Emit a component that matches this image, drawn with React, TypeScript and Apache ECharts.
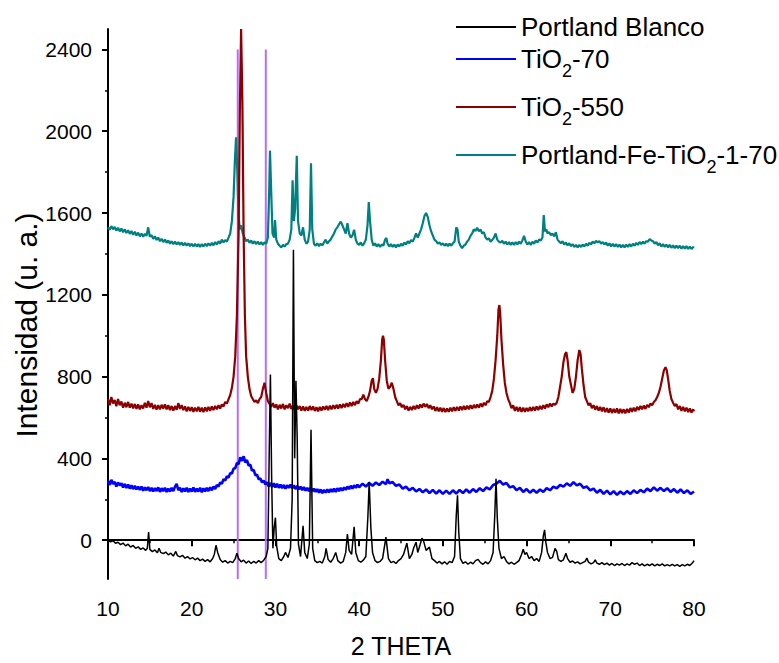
import React, { useEffect, useRef } from "react";
import * as echarts from "echarts";

// XRD patterns, [2θ, intensity] pairs
const portlandBlanco: [number, number][] = [
  [10,0],[10.3,-8],[10.6,-3],[10.9,-15],[11.2,-10],[11.5,-22],[11.8,-14],[12.1,-28],[12.4,-20],[12.7,-34],[13.0,-26],[13.3,-40],[13.6,-33],[13.9,-45],[14.2,-38],[14.5,-50],[14.7,-40],[14.85,40],[15.0,-45],[15.3,-56],[15.6,-48],[15.9,-62],[16.1,-40],[16.3,-60],[16.6,-66],[16.9,-58],[17.2,-72],[17.5,-64],[17.8,-78],[18.1,-55],[18.3,-76],[18.6,-82],[18.9,-74],[19.2,-88],[19.5,-80],[19.8,-92],[20.1,-85],[20.4,-96],[20.7,-88],[21.0,-100],[21.3,-93],[21.6,-104],[21.9,-95],[22.2,-106],[22.5,-90],[22.7,-70],[22.9,-25],[23.1,-60],[23.4,-95],[23.7,-108],[24.0,-100],[24.3,-112],[24.6,-104],[24.9,-110],[25.2,-90],[25.4,-64],[25.6,-90],[25.9,-106],[26.2,-98],[26.5,-112],[26.8,-102],[27.1,-114],[27.4,-104],[27.7,-112],[28.0,-100],[28.3,-110],[28.6,-98],[28.9,-80],[29.1,-40],[29.25,400],[29.4,810],[29.55,300],[29.7,-40],[29.85,60],[30.0,110],[30.15,-30],[30.4,-90],[30.7,-100],[31.0,-80],[31.2,-60],[31.5,-85],[31.8,-40],[32.0,200],[32.15,1420],[32.3,400],[32.45,780],[32.6,500],[32.75,-20],[33.0,-80],[33.3,70],[33.5,-60],[33.8,-90],[34.05,-20],[34.25,540],[34.45,-40],[34.7,-100],[35.0,-110],[35.3,-104],[35.6,-112],[35.9,-80],[36.05,-40],[36.3,-95],[36.6,-108],[36.9,-90],[37.2,-60],[37.45,-100],[37.8,-112],[38.1,-104],[38.4,-60],[38.6,30],[38.8,-50],[39.1,-70],[39.4,65],[39.6,-60],[39.9,-100],[40.2,-108],[40.5,-98],[40.8,-80],[41.05,120],[41.2,285],[41.4,60],[41.6,-60],[41.9,-100],[42.2,-110],[42.5,-104],[42.8,-90],[43.2,15],[43.5,-90],[43.8,-110],[44.1,-104],[44.4,-114],[44.7,-100],[45.0,-90],[45.3,-70],[45.7,-15],[46.0,-90],[46.3,-70],[46.5,-40],[46.8,-10],[47.0,-60],[47.3,-20],[47.5,10],[47.7,-5],[48.0,-50],[48.4,-34],[48.7,-90],[49.0,-100],[49.3,-112],[49.6,-104],[49.9,-116],[50.2,-106],[50.5,-118],[50.8,-104],[51.1,-110],[51.4,-80],[51.6,120],[51.75,220],[51.9,40],[52.1,-90],[52.4,-114],[52.7,-106],[53.0,-118],[53.3,-108],[53.6,-116],[53.9,-100],[54.2,-94],[54.5,-110],[54.8,-118],[55.1,-106],[55.4,-116],[55.7,-100],[56.0,-60],[56.2,120],[56.35,300],[56.5,110],[56.7,-40],[57.0,-90],[57.3,-80],[57.6,-104],[57.9,-116],[58.2,-108],[58.5,-118],[58.8,-110],[59.1,-100],[59.4,-70],[59.6,-45],[59.8,-70],[60.0,-60],[60.3,-90],[60.6,-80],[60.9,-100],[61.2,-90],[61.5,-104],[61.8,-60],[62.0,20],[62.15,50],[62.3,-10],[62.5,-60],[62.8,-90],[63.1,-84],[63.4,-40],[63.6,-55],[63.8,-95],[64.1,-104],[64.4,-96],[64.7,-64],[64.9,-90],[65.2,-108],[65.5,-102],[65.8,-112],[66.1,-106],[66.4,-116],[66.7,-110],[67.0,-104],[67.2,-88],[67.4,-108],[67.7,-116],[68.0,-110],[68.2,-96],[68.4,-112],[68.7,-118],[69.0,-110],[69.3,-120],[69.6,-112],[69.9,-122],[70.2,-114],[70.5,-124],[70.8,-116],[71.1,-122],[71.4,-114],[71.7,-124],[72.0,-116],[72.3,-122],[72.6,-110],[72.9,-118],[73.2,-112],[73.5,-124],[73.8,-116],[74.1,-126],[74.4,-118],[74.7,-124],[75.0,-116],[75.3,-126],[75.6,-118],[75.9,-124],[76.2,-116],[76.5,-126],[76.8,-120],[77.1,-126],[77.4,-118],[77.7,-126],[78.0,-120],[78.3,-128],[78.6,-120],[78.9,-126],[79.2,-118],[79.5,-124],[79.8,-112],[80.0,-100],
];

const tio2_70: [number, number][] = [
  [10,290],[10.2,270],[10.4,295],[10.6,275],[10.8,285],[11.0,262],[11.2,282],[11.4,268],[11.6,278],[11.8,258],[12.0,275],[12.2,255],[12.4,272],[12.6,252],[12.8,268],[13.0,250],[13.2,266],[13.4,248],[13.6,262],[13.8,245],[14.0,262],[14.2,242],[14.4,258],[14.6,244],[14.8,260],[15.0,240],[15.2,256],[15.4,238],[15.6,255],[15.8,240],[16.0,258],[16.2,236],[16.4,254],[16.6,240],[16.8,256],[17.0,236],[17.2,252],[17.4,238],[17.6,256],[17.8,240],[18.0,262],[18.2,275],[18.4,244],[18.6,256],[18.8,236],[19.0,254],[19.2,238],[19.4,256],[19.6,236],[19.8,252],[20.0,238],[20.2,258],[20.4,236],[20.6,252],[20.8,238],[21.0,256],[21.2,234],[21.4,254],[21.6,238],[21.8,256],[22.0,240],[22.2,258],[22.4,244],[22.6,262],[22.8,250],[23.0,270],[23.2,262],[23.4,282],[23.6,276],[23.8,298],[24.0,292],[24.2,312],[24.4,306],[24.6,328],[24.8,326],[25.0,350],[25.2,352],[25.4,378],[25.6,372],[25.8,405],[26.0,388],[26.2,410],[26.4,380],[26.6,392],[26.8,364],[27.0,370],[27.2,340],[27.4,344],[27.6,318],[27.8,320],[28.0,298],[28.2,302],[28.4,282],[28.6,292],[28.8,272],[29.0,284],[29.2,262],[29.4,280],[29.6,260],[29.8,278],[30.0,258],[30.2,276],[30.4,256],[30.6,272],[30.8,254],[31.0,270],[31.2,252],[31.4,268],[31.6,256],[31.8,272],[32.0,254],[32.2,268],[32.4,250],[32.6,266],[32.8,248],[33.0,262],[33.2,244],[33.4,260],[33.6,242],[33.8,256],[34.0,240],[34.2,256],[34.4,238],[34.6,252],[34.8,236],[35.0,250],[35.2,232],[35.4,248],[35.6,230],[35.8,246],[36.0,232],[36.2,248],[36.4,234],[36.6,250],[36.8,236],[37.0,252],[37.2,236],[37.4,254],[37.6,240],[37.8,256],[38.0,242],[38.2,258],[38.4,246],[38.6,262],[38.8,250],[39.0,266],[39.2,252],[39.4,268],[39.6,256],[39.8,272],[40.0,258],[40.4,276],[40.8,262],[41.2,280],[41.6,266],[42.0,282],[42.4,270],[42.8,286],[43.2,274],[43.4,298],[43.6,278],[44.0,284],[44.4,266],[44.8,272],[45.2,252],[45.6,262],[46.0,244],[46.4,256],[46.8,238],[47.2,250],[47.6,234],[48.0,248],[48.4,230],[48.8,246],[49.2,228],[49.6,244],[50.0,226],[50.4,242],[50.8,226],[51.2,244],[51.6,228],[52.0,246],[52.4,230],[52.8,248],[53.2,232],[53.6,250],[54.0,236],[54.4,254],[54.8,240],[55.2,258],[55.6,248],[56.0,270],[56.4,276],[56.8,290],[57.2,272],[57.6,280],[58.0,258],[58.4,264],[58.8,244],[59.2,256],[59.6,236],[60.0,250],[60.4,232],[60.8,246],[61.2,232],[61.6,248],[62.0,236],[62.4,254],[62.8,244],[63.2,262],[63.6,254],[64.0,270],[64.4,262],[64.8,278],[65.2,266],[65.6,284],[66.0,268],[66.4,276],[66.8,256],[67.2,262],[67.6,244],[68.0,252],[68.4,232],[68.8,246],[69.2,226],[69.6,242],[70.0,224],[70.4,240],[70.8,222],[71.2,238],[71.6,224],[72.0,240],[72.4,226],[72.8,244],[73.2,230],[73.6,246],[74.0,234],[74.4,252],[74.8,240],[75.2,258],[75.6,242],[76.0,256],[76.4,240],[76.8,254],[77.2,236],[77.6,250],[78.0,232],[78.4,248],[78.8,230],[79.2,244],[79.6,226],[80.0,238],
];

const tio2_550: [number, number][] = [
  [10,690],[10.2,660],[10.4,700],[10.6,668],[10.8,685],[11.0,655],[11.2,690],[11.4,660],[11.6,678],[11.8,648],[12.0,672],[12.2,650],[12.4,676],[12.6,648],[12.8,668],[13.0,644],[13.2,666],[13.4,642],[13.6,664],[13.8,640],[14.0,660],[14.2,644],[14.4,672],[14.6,648],[14.8,680],[15.0,650],[15.2,670],[15.4,642],[15.6,662],[15.8,638],[16.0,660],[16.2,640],[16.4,662],[16.6,644],[16.8,664],[17.0,640],[17.2,660],[17.4,636],[17.6,656],[17.8,634],[18.0,656],[18.2,638],[18.4,670],[18.6,642],[18.8,660],[19.0,636],[19.2,654],[19.4,630],[19.6,652],[19.8,632],[20.0,650],[20.2,628],[20.4,648],[20.6,630],[20.8,652],[21.0,628],[21.2,648],[21.4,626],[21.6,650],[21.8,630],[22.0,652],[22.2,632],[22.4,654],[22.6,636],[22.8,656],[23.0,640],[23.2,660],[23.4,644],[23.6,664],[23.8,654],[24.0,676],[24.2,668],[24.4,690],[24.6,710],[24.8,745],[25.0,800],[25.2,900],[25.4,1100],[25.6,1500],[25.75,2100],[25.9,2500],[26.05,2150],[26.2,1500],[26.35,1100],[26.5,900],[26.7,800],[26.9,740],[27.1,705],[27.3,690],[27.5,676],[27.7,684],[27.9,670],[28.1,690],[28.3,700],[28.5,740],[28.7,770],[28.9,720],[29.1,680],[29.3,666],[29.5,652],[29.7,670],[29.9,648],[30.1,664],[30.3,640],[30.5,662],[30.7,644],[30.9,666],[31.1,640],[31.3,660],[31.5,646],[31.7,668],[31.9,642],[32.1,658],[32.3,636],[32.5,660],[32.7,640],[32.9,656],[33.1,634],[33.3,654],[33.5,632],[33.7,652],[33.9,634],[34.1,656],[34.3,636],[34.5,654],[34.7,632],[34.9,650],[35.1,630],[35.3,652],[35.5,634],[35.7,654],[35.9,638],[36.1,656],[36.3,636],[36.5,658],[36.7,640],[36.9,660],[37.1,642],[37.3,662],[37.5,644],[37.7,664],[37.9,646],[38.1,666],[38.3,650],[38.5,670],[38.7,652],[38.9,674],[39.1,656],[39.3,676],[39.5,660],[39.7,680],[39.9,668],[40.1,690],[40.3,690],[40.5,712],[40.7,690],[40.9,680],[41.1,700],[41.3,730],[41.5,780],[41.65,792],[41.8,740],[42.0,720],[42.2,740],[42.4,790],[42.6,880],[42.75,980],[42.85,1000],[42.95,980],[43.1,880],[43.3,780],[43.5,740],[43.7,750],[43.9,770],[44.1,740],[44.3,700],[44.5,680],[44.7,660],[44.9,670],[45.1,650],[45.3,662],[45.5,640],[45.7,656],[45.9,634],[46.1,652],[46.3,636],[46.5,656],[46.7,640],[46.9,660],[47.1,644],[47.3,664],[47.5,648],[47.7,668],[47.9,652],[48.1,666],[48.3,646],[48.5,660],[48.7,640],[48.9,654],[49.1,632],[49.3,650],[49.5,630],[49.7,648],[49.9,628],[50.1,646],[50.3,626],[50.5,644],[50.7,628],[50.9,648],[51.1,630],[51.3,650],[51.5,632],[51.7,652],[51.9,634],[52.1,654],[52.3,636],[52.5,656],[52.7,638],[52.9,658],[53.1,640],[53.3,660],[53.5,642],[53.7,662],[53.9,646],[54.1,664],[54.3,648],[54.5,668],[54.7,652],[54.9,672],[55.1,660],[55.3,680],[55.5,676],[55.7,700],[55.9,730],[56.1,790],[56.3,880],[56.5,1000],[56.65,1130],[56.75,1150],[56.85,1110],[57.0,980],[57.2,860],[57.4,770],[57.6,720],[57.8,690],[58.0,670],[58.2,646],[58.4,660],[58.6,632],[58.8,652],[59.0,630],[59.2,650],[59.4,628],[59.6,648],[59.8,628],[60.0,646],[60.2,630],[60.4,650],[60.6,632],[60.8,652],[61.0,634],[61.2,654],[61.4,636],[61.6,656],[61.8,640],[62.0,660],[62.2,644],[62.4,664],[62.6,650],[62.8,668],[63.0,654],[63.2,668],[63.4,662],[63.6,672],[63.8,700],[64.0,750],[64.2,800],[64.4,870],[64.6,910],[64.75,920],[64.9,880],[65.1,800],[65.3,760],[65.5,720],[65.7,740],[65.9,800],[66.1,880],[66.3,930],[66.45,910],[66.6,840],[66.8,760],[67.0,700],[67.2,680],[67.4,660],[67.6,670],[67.8,646],[68.0,660],[68.2,638],[68.4,656],[68.6,634],[68.8,652],[69.0,630],[69.2,650],[69.4,626],[69.6,646],[69.8,624],[70.0,644],[70.2,622],[70.4,642],[70.6,624],[70.8,644],[71.0,620],[71.2,642],[71.4,622],[71.6,640],[71.8,620],[72.0,642],[72.2,624],[72.4,646],[72.6,628],[72.8,648],[73.0,630],[73.2,652],[73.4,636],[73.6,656],[73.8,640],[74.0,658],[74.2,642],[74.4,662],[74.6,650],[74.8,668],[75.0,660],[75.2,676],[75.4,684],[75.6,700],[75.8,720],[76.0,750],[76.2,790],[76.4,830],[76.6,846],[76.75,830],[76.9,790],[77.1,730],[77.3,690],[77.5,672],[77.7,656],[77.9,666],[78.1,640],[78.3,656],[78.5,632],[78.7,652],[78.9,630],[79.1,648],[79.3,626],[79.5,644],[79.7,624],[79.9,640],[80.0,630],
];

const portlandFeTio2: [number, number][] = [
  [10,1530],[10.2,1518],[10.4,1536],[10.6,1520],[10.8,1532],[11.0,1514],[11.2,1528],[11.4,1510],[11.6,1524],[11.8,1506],[12.0,1520],[12.2,1502],[12.4,1516],[12.6,1498],[12.8,1512],[13.0,1494],[13.2,1508],[13.4,1490],[13.6,1504],[13.8,1486],[14.0,1500],[14.2,1484],[14.4,1498],[14.6,1488],[14.8,1530],[15.0,1484],[15.2,1492],[15.4,1474],[15.6,1486],[15.8,1468],[16.0,1480],[16.2,1462],[16.4,1474],[16.6,1458],[16.8,1470],[17.0,1454],[17.2,1466],[17.4,1450],[17.6,1462],[17.8,1448],[18.0,1460],[18.2,1446],[18.4,1458],[18.6,1444],[18.8,1456],[19.0,1442],[19.2,1454],[19.4,1440],[19.6,1452],[19.8,1438],[20.0,1450],[20.2,1436],[20.4,1450],[20.6,1436],[20.8,1448],[21.0,1434],[21.2,1448],[21.4,1436],[21.6,1450],[21.8,1438],[22.0,1452],[22.2,1440],[22.4,1454],[22.6,1442],[22.8,1458],[23.0,1446],[23.2,1462],[23.4,1450],[23.6,1470],[23.8,1456],[24.0,1468],[24.2,1460],[24.4,1480],[24.6,1500],[24.8,1560],[25.0,1680],[25.15,1850],[25.3,1970],[25.45,1800],[25.6,1580],[25.75,1520],[25.9,1540],[26.1,1500],[26.3,1480],[26.5,1462],[26.7,1470],[26.9,1454],[27.1,1466],[27.3,1450],[27.5,1462],[27.7,1448],[27.9,1460],[28.1,1446],[28.3,1458],[28.5,1444],[28.7,1456],[28.9,1450],[29.1,1480],[29.25,1700],[29.35,1905],[29.5,1700],[29.65,1500],[29.85,1480],[29.95,1565],[30.1,1470],[30.3,1450],[30.5,1440],[30.7,1432],[30.9,1444],[31.1,1436],[31.3,1448],[31.5,1450],[31.7,1470],[31.9,1520],[32.05,1760],[32.2,1560],[32.35,1620],[32.55,1880],[32.7,1560],[32.9,1500],[33.1,1490],[33.3,1530],[33.5,1470],[33.7,1450],[33.9,1460],[34.1,1520],[34.25,1843],[34.4,1520],[34.6,1450],[34.8,1440],[35.0,1452],[35.2,1438],[35.4,1450],[35.6,1442],[35.8,1456],[36.0,1470],[36.2,1450],[36.4,1462],[36.6,1470],[36.8,1486],[37.0,1500],[37.2,1520],[37.4,1530],[37.6,1545],[37.8,1558],[38.0,1540],[38.2,1520],[38.4,1500],[38.6,1550],[38.8,1500],[39.0,1480],[39.2,1490],[39.4,1518],[39.6,1470],[39.8,1450],[40.0,1444],[40.2,1456],[40.4,1440],[40.6,1452],[40.8,1470],[41.0,1540],[41.15,1653],[41.3,1560],[41.5,1470],[41.7,1440],[41.9,1452],[42.1,1436],[42.3,1448],[42.5,1434],[42.7,1446],[42.9,1440],[43.1,1470],[43.25,1478],[43.4,1450],[43.6,1436],[43.8,1448],[44.0,1434],[44.2,1446],[44.4,1432],[44.6,1446],[44.8,1436],[45.0,1450],[45.2,1440],[45.4,1456],[45.6,1446],[45.8,1462],[46.0,1452],[46.2,1468],[46.4,1460],[46.6,1478],[46.8,1500],[47.0,1480],[47.2,1500],[47.4,1520],[47.6,1550],[47.8,1585],[48.0,1600],[48.2,1580],[48.4,1540],[48.6,1510],[48.8,1490],[49.0,1470],[49.2,1462],[49.4,1450],[49.6,1456],[49.8,1444],[50.0,1452],[50.2,1440],[50.4,1450],[50.6,1438],[50.8,1450],[51.0,1440],[51.2,1452],[51.4,1460],[51.6,1530],[51.75,1520],[51.9,1460],[52.1,1440],[52.3,1428],[52.5,1440],[52.7,1446],[52.9,1460],[53.1,1470],[53.3,1488],[53.5,1500],[53.7,1520],[53.9,1512],[54.1,1528],[54.3,1510],[54.5,1520],[54.7,1500],[54.9,1506],[55.1,1480],[55.3,1470],[55.5,1476],[55.7,1460],[55.9,1468],[56.1,1480],[56.3,1500],[56.5,1470],[56.7,1460],[56.9,1456],[57.1,1464],[57.3,1450],[57.5,1460],[57.7,1446],[57.9,1458],[58.1,1444],[58.3,1456],[58.5,1444],[58.7,1458],[58.9,1446],[59.1,1460],[59.3,1450],[59.5,1466],[59.7,1488],[59.9,1460],[60.1,1446],[60.3,1458],[60.5,1444],[60.7,1460],[60.9,1450],[61.1,1466],[61.3,1456],[61.5,1470],[61.7,1466],[61.9,1480],[62.05,1590],[62.2,1510],[62.35,1520],[62.5,1500],[62.7,1506],[62.9,1492],[63.1,1500],[63.3,1486],[63.5,1506],[63.7,1470],[63.9,1460],[64.1,1452],[64.3,1462],[64.5,1446],[64.7,1456],[64.9,1442],[65.1,1452],[65.3,1438],[65.5,1448],[65.7,1434],[65.9,1444],[66.1,1432],[66.3,1444],[66.5,1434],[66.7,1446],[66.9,1436],[67.1,1450],[67.3,1440],[67.5,1454],[67.7,1446],[67.9,1460],[68.1,1452],[68.3,1464],[68.5,1456],[68.7,1462],[68.9,1450],[69.1,1458],[69.3,1446],[69.5,1456],[69.7,1440],[69.9,1452],[70.1,1436],[70.3,1450],[70.5,1436],[70.7,1448],[70.9,1434],[71.1,1446],[71.3,1432],[71.5,1444],[71.7,1432],[71.9,1446],[72.1,1434],[72.3,1448],[72.5,1436],[72.7,1450],[72.9,1440],[73.1,1454],[73.3,1444],[73.5,1458],[73.7,1448],[73.9,1460],[74.1,1450],[74.3,1462],[74.5,1460],[74.7,1472],[74.9,1466],[75.1,1462],[75.3,1450],[75.5,1458],[75.7,1442],[75.9,1452],[76.1,1436],[76.3,1448],[76.5,1434],[76.7,1446],[76.9,1432],[77.1,1444],[77.3,1430],[77.5,1442],[77.7,1428],[77.9,1440],[78.1,1428],[78.3,1440],[78.5,1426],[78.7,1438],[78.9,1426],[79.1,1438],[79.3,1424],[79.5,1436],[79.7,1424],[79.9,1434],[80.0,1430],
];

// Reference reflection positions (2θ) marked with vertical lines
const referenceLines = [25.5, 28.85];
const referenceTop = 2400;

const seriesNames = ["Portland Blanco", "TiO2-70", "TiO2-550", "Portland-Fe-TiO2-1-70"];
const seriesColors = ["#000000", "#0000ff", "#8b0000", "#008080"];
const seriesWidths = [1.5, 2.6, 2.2, 2.2];

const yMin = -190;
const yMax = 2500;
const yMajorTicks = [0, 400, 800, 1200, 1600, 2000, 2400];
const yMinorTicks = [200, 600, 1000, 1400, 1800, 2200];

const FONT = "'Liberation Sans', Arial, Helvetica, sans-serif";

// one legend box per series so each row sits at its own height
function legendFor(name: string, top: number) {
  return {
    data: [name],
    left: 456,
    top,
    orient: "vertical" as const,
    icon: "rect",
    itemWidth: 60,
    itemHeight: 2,
    padding: 0,
    formatter: (n: string) => n.replace("TiO2", "TiO{sub|2}"),
    textStyle: {
      fontSize: 26,
      color: "#000",
      fontFamily: FONT,
      lineHeight: 42,
      rich: {
        sub: {
          fontSize: 18,
          lineHeight: 18,
          fontFamily: FONT,
          color: "#000",
          verticalAlign: "bottom",
        },
      },
    },
  };
}

export default function App() {
  const ref = useRef<HTMLDivElement>(null);

  useEffect(() => {
    if (!ref.current) return;
    const chart = echarts.init(ref.current, undefined, { renderer: "svg" });

    const dataSets = [portlandBlanco, tio2_70, tio2_550, portlandFeTio2];
    // draw order: teal, red, blue, black (black on top)
    const drawOrder = [3, 2, 1, 0];

    const refSeries = referenceLines.map((x, i) => ({
      name: "ref" + i,
      type: "line",
      data: [
        [x, yMin],
        [x, referenceTop],
      ],
      symbol: "none",
      silent: true,
      lineStyle: { color: "#b56ef7", width: 2 },
      z: 1,
    }));

    const dataSeries = drawOrder.map((idx, k) => ({
      name: seriesNames[idx],
      type: "line",
      data: dataSets[idx],
      symbol: "none",
      showSymbol: false,
      lineStyle: { color: seriesColors[idx], width: seriesWidths[idx] },
      itemStyle: { color: seriesColors[idx] },
      z: 2 + k,
    }));

    chart.setOption({
      animation: false,
      backgroundColor: "#ffffff",
      grid: { left: 108, right: 85, top: 29, bottom: 84 },
      xAxis: {
        type: "value",
        min: 10,
        max: 80,
        interval: 10,
        axisLine: { show: true, lineStyle: { color: "#000", width: 2 } },
        axisTick: { show: true, length: 6, lineStyle: { color: "#000", width: 2 } },
        minorTick: { show: true, splitNumber: 2, length: 3, lineStyle: { color: "#000", width: 1.5 } },
        splitLine: { show: false },
        minorSplitLine: { show: false },
        axisLabel: { fontSize: 21, color: "#000", margin: 19, fontFamily: FONT },
        name: "2 THETA",
        nameLocation: "middle",
        nameGap: 54,
        nameTextStyle: { fontSize: 25, color: "#000", fontFamily: FONT },
      },
      yAxis: [
        {
          type: "value",
          min: yMin,
          max: yMax,
          axisLine: { show: true, lineStyle: { color: "#000", width: 2 } },
          axisTick: { show: true, length: 6, customValues: yMajorTicks, lineStyle: { color: "#000", width: 2 } },
          splitLine: { show: false },
          axisLabel: {
            fontSize: 21,
            color: "#000",
            margin: 16,
            fontFamily: FONT,
            customValues: yMajorTicks,
            formatter: (v: number) => String(v),
          },
        },
        {
          type: "value",
          min: yMin,
          max: yMax,
          position: "left",
          axisLine: { show: false },
          axisTick: { show: true, length: 3, customValues: yMinorTicks, lineStyle: { color: "#000", width: 1.5 } },
          splitLine: { show: false },
          axisLabel: { show: false },
        },
      ],
      legend: [
        legendFor(seriesNames[0], 6),
        legendFor(seriesNames[1], 38),
        legendFor(seriesNames[2], 86),
        legendFor(seriesNames[3], 134),
      ],
      graphic: [
        {
          type: "text",
          x: 26,
          y: 325,
          rotation: Math.PI / 2,
          style: {
            text: "Intensidad (u. a.)",
            fontSize: 30,
            fontFamily: FONT,
            fill: "#000",
            align: "center",
            verticalAlign: "middle",
          },
        },
      ],
      series: [...refSeries, ...dataSeries],
    });

    return () => chart.dispose();
  }, []);

  return (
    <div
      ref={ref}
      style={{ position: "absolute", left: 0, top: 0, width: 779, height: 663, background: "#fff" }}
    />
  );
}
